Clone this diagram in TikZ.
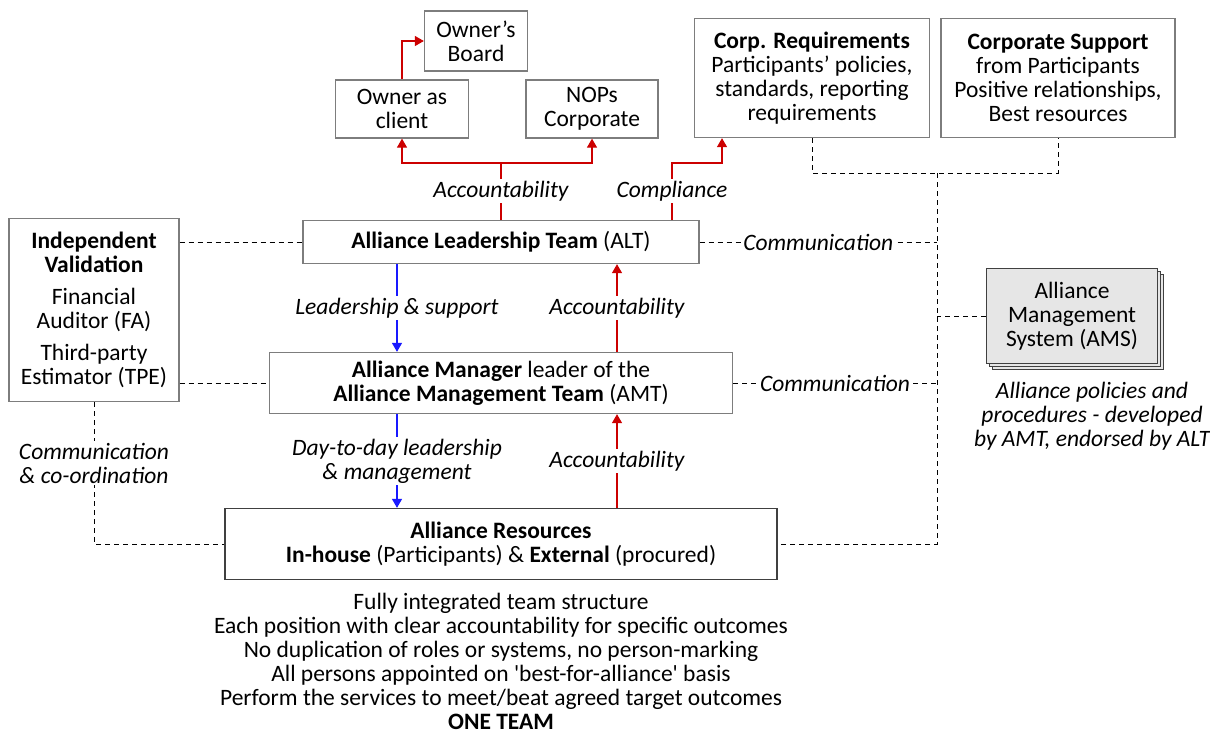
\documentclass[tikz,border=0pt]{standalone}
\usepackage{fontspec}
\setmainfont{Carlito}
\usepackage{xcolor}
\usetikzlibrary{arrows.meta,shadows,positioning}
\tikzset{>={Triangle[width=10pt,length=9pt]}}
\definecolor{accred}{RGB}{204,0,0}
\definecolor{leadblue}{RGB}{25,25,255}
\definecolor{boxgray}{RGB}{125,125,125}
\definecolor{amsfill}{RGB}{230,230,230}

\begin{document}
\begin{tikzpicture}[x=1pt,y=-1pt,
                          font=\fontsize{23.5}{24}\selectfont,
                          orgbox/.style={draw=boxgray, line width=1.3pt, fill=white, align=center, inner sep=0pt},
                          redline/.style={accred, line width=1.3pt},
                          blueline/.style={leadblue, line width=1.3pt},
                          commline/.style={black, line width=1pt, dash pattern=on 5pt off 4pt},
                          lbl/.style={fill=white, text=black, font=\fontsize{23.5}{24}\selectfont\itshape, align=center, inner sep=2pt},
                         ]

\useasboundingbox (0,0) rectangle (1210,734);

% top boxes
\node[orgbox, minimum width=103pt, minimum height=60pt] (ownerboard) at (476,41) {Owner's\\Board};
\node[orgbox, minimum width=133pt, minimum height=58pt] (ownerclient) at (402,109) {Owner as\\client};
\node[orgbox, minimum width=132pt, minimum height=58pt] (nops) at (592,109) {NOPs\\Corporate};
\node[orgbox, minimum width=235pt, minimum height=119pt] (corpreq) at (812,78)
  {\textbf{Corp. Requirements}\\Participants' policies,\\standards, reporting\\requirements};
\node[orgbox, minimum width=234pt, minimum height=119pt] (corpsup) at (1058,78)
  {\textbf{Corporate Support}\\from Participants\\Positive relationships,\\Best resources};

% team boxes
\node[orgbox, minimum width=170pt, minimum height=183pt] (indval) at (94,310)
  {\textbf{Independent}\\\textbf{Validation}\\[8pt]Financial\\Auditor (FA)\\[8pt]Third-party\\Estimator (TPE)};
\node[orgbox, minimum width=396pt, minimum height=43pt] (alt) at (501,242)
  {\textbf{Alliance Leadership Team} (ALT)};
\node[orgbox, minimum width=463pt, minimum height=61pt] (amt) at (501,383)
  {\textbf{Alliance Manager} leader of the\\\textbf{Alliance Management Team} (AMT)};
\node[orgbox, draw=black!75, minimum width=552pt, minimum height=71pt] (resources) at (501,544)
  {\textbf{Alliance Resources}\\\textbf{In-house} (Participants) \& \textbf{External} (procured)};
\node[orgbox, draw=black!75, fill=amsfill, minimum width=171pt, minimum height=95pt,
      double copy shadow={shadow xshift=3pt, shadow yshift=-3pt}] (ams) at (1072,316)
  {Alliance\\Management\\System (AMS)};

% free texts
\node[align=center, font=\fontsize{23.5}{24}\selectfont\itshape] (amsnote) at (1092,416)
  {Alliance policies and\\procedures - developed\\by AMT, endorsed by ALT};
\node[align=center] (teamnote) at (501,661)
  {Fully integrated team structure\\Each position with clear accountability for specific outcomes\\No duplication of roles or systems, no person-marking\\All persons appointed on \textquotesingle best-for-alliance\textquotesingle{} basis\\Perform the services to meet/beat agreed target outcomes\\\textbf{ONE TEAM}};

\coordinate (accsplit) at (501,163);
\coordinate (compbend) at (672,163);
\coordinate (commtop) at (937,173);
\coordinate (leadx) at (397,0);
\coordinate (accx) at (617,0);
\coordinate (compx) at (722,0);

% accountability and compliance upwards
\draw[redline] (alt.north) -- node[lbl]{Accountability} (accsplit);
\draw[redline,->] (accsplit) -| (ownerclient.south);
\draw[redline,->] (accsplit) -| (nops.south);
\draw[redline,->] (ownerclient.north) |- (ownerboard.west);
\draw[redline,->] (compbend |- alt.north) -- node[lbl]{Compliance} (compbend) -| (compx |- corpreq.south);

% leadership down, accountability up
\draw[blueline,->] (leadx |- alt.south) -- node[lbl]{Leadership \& support} (leadx |- amt.north);
\draw[redline,->] (accx |- amt.north) -- node[lbl]{Accountability} (accx |- alt.south);
\draw[blueline,->] (leadx |- amt.south) -- node[lbl]{Day-to-day leadership\\\& management} (leadx |- resources.north);
\draw[redline,->] (accx |- resources.north) -- node[lbl]{Accountability} (accx |- amt.south);

% communication links
\draw[commline] (corpreq.south) |- (commtop) -| (corpsup.south);
\draw[commline] (commtop) |- (resources.east);
\draw[commline] (alt.east) -- node[lbl]{Communication} (alt.east -| commtop);
\draw[commline] (amt.east) -- node[lbl]{Communication} (amt.east -| commtop);
\draw[commline] (ams.west) -- (ams.west -| commtop);
\draw[commline] (indval.east |- alt.west) -- (alt.west);
\draw[commline] (indval.east |- amt.west) -- (amt.west);
\draw[commline] (indval.south) -- node[lbl, pos=.43]{Communication\\\& co-ordination} (indval.south |- resources.west) -- (resources.west);

\end{tikzpicture}
\end{document}
